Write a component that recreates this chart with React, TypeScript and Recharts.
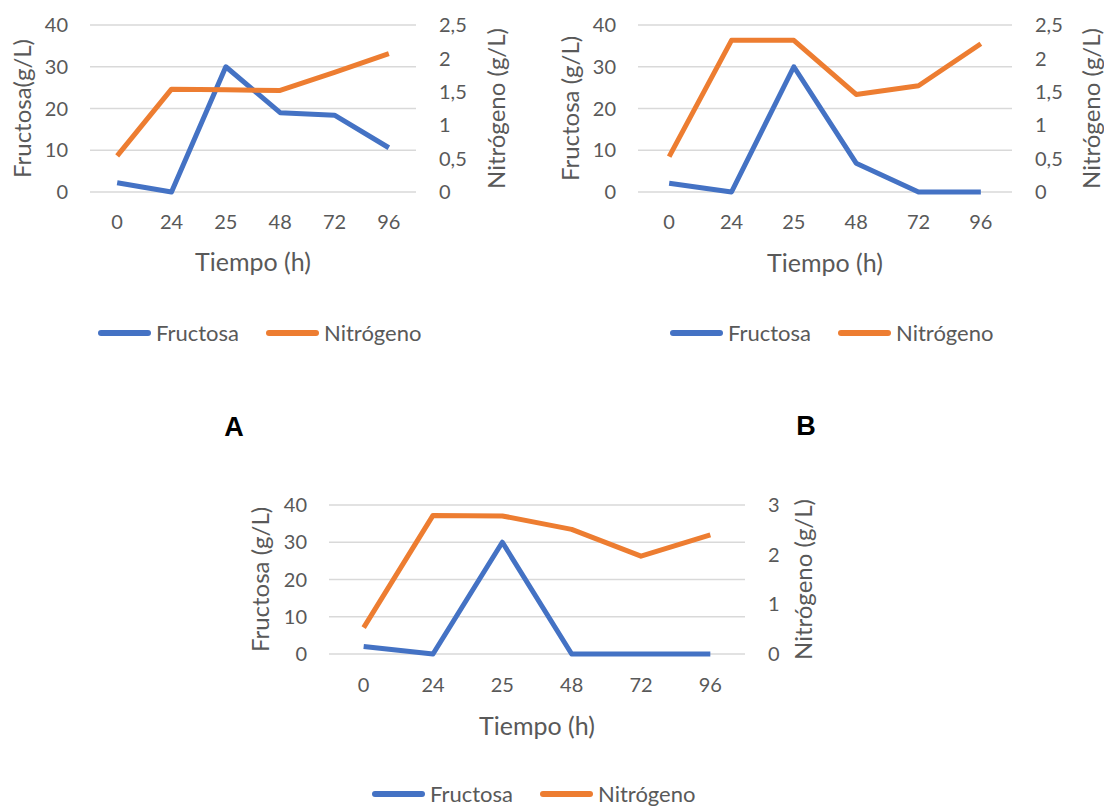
import React from 'react';
import { LineChart, Line, XAxis, YAxis, CartesianGrid, Legend } from 'recharts';

// tiempo de muestreo (h)
const tiempos = ['0', '24', '25', '48', '72', '96'];

const fructosaA = [2.2, 0, 30, 19, 18.4, 10.6];
const nitrogenoA = [0.54, 1.54, 1.53, 1.52, 1.79, 2.07];

const fructosaB = [2.1, 0, 30, 6.9, 0, 0];
const nitrogenoB = [0.53, 2.27, 2.27, 1.46, 1.59, 2.22];

const fructosaC = [2, 0, 30, 0, 0, 0];
const nitrogenoC = [0.53, 2.79, 2.78, 2.51, 1.97, 2.4];

const fructosaTicks = [0, 10, 20, 30, 40];
const nitrogenoTicksAB = [0, 0.5, 1, 1.5, 2, 2.5];
const nitrogenoTicksC = [0, 1, 2, 3];

const BLUE = '#4472C4';
const ORANGE = '#ED7D31';
const GREY = '#595959';
const FONT = 'Lato, "Open Sans", sans-serif';

const coma = (v: number) => String(v).replace('.', ',');

interface PanelProps {
  fructosa: number[];
  nitrogeno: number[];
  nTicks: number[];
  leftTitle: string;
  left: number;
  top: number;
  width: number;
  height: number;
  yLeftW: number;
  yRightW: number;
  xH: number;
  legendH: number;
  legendStart: number;
  leftDx: number;
  rightDx: number;
  titleOffset: number;
  tickGapX: number;
}

const Panel: React.FC<PanelProps> = (p) => {
  const data = tiempos.map((t, i) => ({
    t,
    fructosa: p.fructosa[i],
    nitrogeno: p.nitrogeno[i]
  }));

  const renderLegend = (props: any) => (
    <div
      style={{
        display: 'flex',
        alignItems: 'center',
        height: p.legendH,
        paddingLeft: p.legendStart,
        fontFamily: FONT,
        fontSize: 22,
        lineHeight: '22px',
        color: GREY
      }}
    >
      {(props.payload || []).map((e: any) => (
        <div key={e.value} style={{ display: 'flex', alignItems: 'center', marginRight: 27 }}>
          <span
            style={{ display: 'inline-block', width: 53, height: 6, borderRadius: 3, background: e.color, marginRight: 5 }}
          />
          <span>{e.value}</span>
        </div>
      ))}
    </div>
  );

  return (
    <div style={{ position: 'absolute', left: p.left, top: p.top }}>
      <LineChart
        width={p.width}
        height={p.height}
        data={data}
        margin={{ top: 25, right: 0, bottom: 0, left: 0 }}
        style={{ fontFamily: FONT }}
      >
        <CartesianGrid yAxisId="f" vertical={false} stroke="#D9D9D9" strokeWidth={1.3} />
        <XAxis
          dataKey="t"
          scale="band"
          height={p.xH}
          axisLine={false}
          tickLine={false}
          tickMargin={p.tickGapX}
          tick={{ fill: GREY, fontSize: 20 }}
          label={{ value: 'Tiempo (h)', position: 'insideTop', offset: p.titleOffset, fill: GREY, fontSize: 25 }}
        />
        <YAxis
          yAxisId="f"
          width={p.yLeftW}
          domain={[0, 40]}
          ticks={fructosaTicks}
          axisLine={false}
          tickLine={false}
          tickMargin={16}
          tick={{ fill: GREY, fontSize: 20 }}
          label={{ value: p.leftTitle, angle: -90, position: 'center', dx: p.leftDx, fill: GREY, fontSize: 24 }}
        />
        <YAxis
          yAxisId="n"
          orientation="right"
          width={p.yRightW}
          domain={[0, p.nTicks[p.nTicks.length - 1]]}
          ticks={p.nTicks}
          tickFormatter={coma}
          axisLine={false}
          tickLine={false}
          tickMargin={17}
          tick={{ fill: GREY, fontSize: 20, textAnchor: 'start' }}
          label={{ value: 'Nitrógeno (g/L)', angle: -90, position: 'center', dx: p.rightDx, fill: GREY, fontSize: 24 }}
        />
        <Legend verticalAlign="bottom" height={p.legendH} content={renderLegend} />
        <Line
          yAxisId="f"
          dataKey="fructosa"
          name="Fructosa"
          stroke={BLUE}
          strokeWidth={5}
          strokeLinejoin="round"
          dot={false}
          isAnimationActive={false}
        />
        <Line
          yAxisId="n"
          dataKey="nitrogeno"
          name="Nitrógeno"
          stroke={ORANGE}
          strokeWidth={5}
          strokeLinejoin="round"
          dot={false}
          isAnimationActive={false}
        />
      </LineChart>
    </div>
  );
};

const panelLetter = (txt: string, x: number, y: number) => (
  <div
    style={{
      position: 'absolute',
      left: x - 20,
      top: y - 16,
      width: 40,
      textAlign: 'center',
      fontFamily: '"Liberation Sans", Arial, sans-serif',
      fontWeight: 'bold',
      fontSize: 27,
      lineHeight: '32px',
      color: '#000'
    }}
  >
    {txt}
  </div>
);

export default function App() {
  return (
    <div
      style={{
        position: 'absolute',
        left: 0,
        top: 0,
        width: 1104,
        height: 806,
        overflow: 'hidden',
        background: '#fff'
      }}
    >
      <Panel
        fructosa={fructosaA}
        nitrogeno={nitrogenoA}
        nTicks={nitrogenoTicksAB}
        leftTitle="Fructosa(g/L)"
        left={0}
        top={0}
        width={520}
        height={353}
        yLeftW={90}
        yRightW={104}
        xH={121}
        legendH={40}
        legendStart={98}
        leftDx={-23}
        rightDx={28}
        titleOffset={61}
        tickGapX={17}
      />
      <Panel
        fructosa={fructosaB}
        nitrogeno={nitrogenoB}
        nTicks={nitrogenoTicksAB}
        leftTitle="Fructosa (g/L)"
        left={550}
        top={0}
        width={554}
        height={353}
        yLeftW={88}
        yRightW={92}
        xH={121}
        legendH={40}
        legendStart={120}
        leftDx={-24}
        rightDx={33}
        titleOffset={62}
        tickGapX={17}
      />
      <Panel
        fructosa={fructosaC}
        nitrogeno={nitrogenoC}
        nTicks={nitrogenoTicksC}
        leftTitle="Fructosa (g/L)"
        left={240}
        top={480}
        width={590}
        height={325}
        yLeftW={89}
        yRightW={85}
        xH={129}
        legendH={22}
        legendStart={132}
        leftDx={-24}
        rightDx={16}
        titleOffset={63}
        tickGapX={18}
      />
      {panelLetter('A', 234, 427)}
      {panelLetter('B', 806, 426)}
    </div>
  );
}
